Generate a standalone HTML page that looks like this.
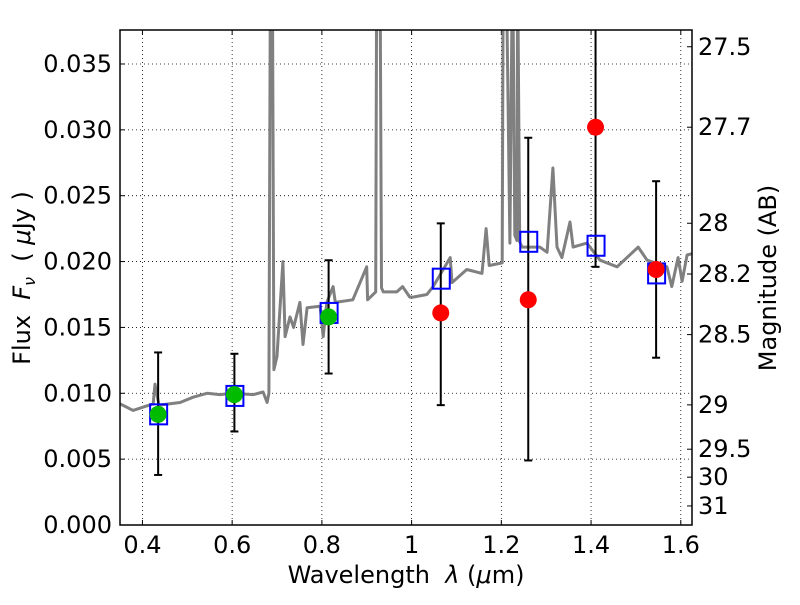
<!DOCTYPE html>
<html><head><meta charset="utf-8"><style>
body{margin:0;background:#fff}
svg text{font-family:"DejaVu Sans","Liberation Sans",sans-serif;fill:#000}
</style></head><body>
<svg id="c" width="800" height="600" xmlns="http://www.w3.org/2000/svg"></svg>
<script>
const xTicks=[0.4,0.6,0.8,1.0,1.2,1.4,1.6];
const xTickLabels=["0.4","0.6","0.8","1","1.2","1.4","1.6"];
const yTicks=[0,0.005,0.010,0.015,0.020,0.025,0.030,0.035];
const yTickLabels=["0.000","0.005","0.010","0.015","0.020","0.025","0.030","0.035"];
const magTicks=[27.5,27.7,28,28.2,28.5,29,29.5,30,31];
const magTickLabels=["27.5","27.7","28","28.2","28.5","29","29.5","30","31"];
const specWl=[0.35,0.379,0.424,0.428,0.437,0.484,0.513,0.544,0.573,0.60,0.647,0.669,0.678,0.682,0.685,0.690,0.693,0.700,0.713,0.718,0.729,0.737,0.751,0.758,0.767,0.796,0.803,0.811,0.825,0.83,0.869,0.90,0.902,0.92,0.922,0.925,0.93,0.933,0.937,0.967,0.98,0.996,1.003,1.034,1.048,1.086,1.09,1.123,1.157,1.166,1.173,1.202,1.204,1.206,1.212,1.219,1.224,1.226,1.23,1.235,1.236,1.237,1.241,1.246,1.286,1.302,1.315,1.324,1.335,1.353,1.36,1.391,1.42,1.458,1.505,1.525,1.569,1.58,1.594,1.603,1.614,1.625];
const specFlux=[0.0092,0.0087,0.0092,0.0107,0.0091,0.0093,0.0097,0.0100,0.0099,0.0100,0.0099,0.0101,0.0093,0.0100,0.040,0.040,0.0118,0.0128,0.0200,0.0143,0.0158,0.0150,0.0169,0.0137,0.0165,0.0166,0.0143,0.0169,0.0181,0.0169,0.0171,0.0196,0.0171,0.0177,0.040,0.040,0.040,0.0180,0.0177,0.0177,0.0181,0.0173,0.0173,0.0175,0.0181,0.0203,0.0184,0.0194,0.0191,0.0225,0.0197,0.0199,0.040,0.040,0.040,0.0214,0.040,0.040,0.0220,0.0216,0.040,0.040,0.0215,0.0211,0.0211,0.0207,0.0271,0.0211,0.0203,0.0230,0.0211,0.0214,0.0201,0.0196,0.0211,0.0201,0.0196,0.0181,0.0203,0.0185,0.0205,0.0206];
const obsWl=[0.435,0.605,0.815,1.065,1.26,1.41,1.545];
const obsFlux=[0.0084,0.0099,0.0158,0.0161,0.0171,0.0302,0.0194];
const obsLo=[0.0038,0.0071,0.0115,0.0091,0.0049,0.0196,0.0127];
const obsHi=[0.0131,0.0130,0.0201,0.0229,0.0294,0.0400,0.0261];
const obsColor=["green","green","green","red","red","red","red"];
const modelFlux=[0.0084,0.0098,0.0161,0.0187,0.0215,0.0212,0.0191];

const L=120,R=692,T=30,B=525,X0=0.35,X1=1.625,Y1=0.03758;
const FS=24;
const sx=v=>L+(v-X0)/(X1-X0)*(R-L);
const sy=v=>B-v/Y1*(B-T);
const svg=document.getElementById('c');
const NS='http://www.w3.org/2000/svg';
function mk(tag,attrs,parent){const e=document.createElementNS(NS,tag);for(const k in attrs)e.setAttribute(k,attrs[k]);(parent||svg).appendChild(e);return e;}
const defs=mk('defs',{});const cp=mk('clipPath',{id:'pc'},defs);mk('rect',{x:L,y:T,width:R-L,height:B-T},cp);
const grid=mk('g',{});


xTicks.forEach((v,i)=>{
 const x=sx(v);
 mk('line',{x1:x,x2:x,y1:T,y2:B,stroke:'#000','stroke-width':0.8,'stroke-dasharray':'1,3'},grid);
 mk('line',{x1:x,x2:x,y1:B,y2:B-5,stroke:'#000'},grid);
 mk('line',{x1:x,x2:x,y1:T,y2:T+5,stroke:'#000'},grid);
 const t=mk('text',{x:x,y:B+28,'font-size':FS,'text-anchor':'middle'});
 t.textContent=xTickLabels[i];
 
 
});
yTicks.forEach((v,i)=>{
 const y=sy(v);
 mk('line',{x1:L,x2:R,y1:y,y2:y,stroke:'#000','stroke-width':0.8,'stroke-dasharray':'1,3'},grid);
 mk('line',{x1:L,x2:L+5,y1:y,y2:y,stroke:'#000'},grid);
 const t=mk('text',{x:L-8,y:y+8,'font-size':FS,'text-anchor':'end'});
 t.textContent=yTickLabels[i];
 
 
});
magTicks.forEach((m,i)=>{
 const y=sy(Math.pow(10,(23.9-m)/2.5));
 mk('line',{x1:R,x2:R-5,y1:y,y2:y,stroke:'#000'},grid);
 const t=mk('text',{x:R+6,y:y+8,'font-size':FS,'text-anchor':'start'});
 t.textContent=magTickLabels[i];
 
 
});
const d=specWl.map((w,i)=>(i?'L':'M')+sx(w).toFixed(1)+','+sy(specFlux[i]).toFixed(1)).join('');
const sp=mk('path',{d:d,fill:'none',stroke:'#808080','stroke-width':3,'stroke-linejoin':'round','clip-path':'url(#pc)'});


obsWl.forEach((w,i)=>{
 const x=sx(w);
 const g=mk('g',{'clip-path':'url(#pc)'});
 
 
 mk('line',{x1:x,x2:x,y1:sy(obsLo[i]),y2:sy(obsHi[i]),stroke:'#000','stroke-width':2},g);
 mk('line',{x1:x-4,x2:x+4,y1:sy(obsLo[i]),y2:sy(obsLo[i]),stroke:'#000','stroke-width':2},g);
 mk('line',{x1:x-4,x2:x+4,y1:sy(obsHi[i]),y2:sy(obsHi[i]),stroke:'#000','stroke-width':2},g);
 const sq=mk('rect',{x:x-8,y:sy(modelFlux[i])-10,width:17,height:20,fill:'none',stroke:'#0000ff','stroke-width':2});
 
 
 const c=mk('circle',{cx:x,cy:sy(obsFlux[i]),r:8.5,fill:obsColor[i]==='green'?'#00bb00':'#ff0000'});
 
 
});
const fr=mk('rect',{x:L,y:T,width:R-L,height:B-T,fill:'none',stroke:'#000','stroke-width':1.5});


const xl=mk('text',{x:406,y:583,'font-size':FS,'text-anchor':'middle'});
xl.innerHTML='Wavelength  <tspan font-style="italic">λ</tspan> (<tspan font-style="italic">μ</tspan>m)';
xl.setAttribute('style','white-space:pre');


const yl=mk('text',{x:0,y:0,'font-size':FS,'text-anchor':'middle',transform:'translate(30,278) rotate(-90)',style:'white-space:pre'});
yl.innerHTML='Flux  <tspan font-style="italic">F</tspan><tspan font-style="italic" font-size="16" dy="5">ν</tspan><tspan dy="-5">  ( </tspan><tspan font-style="italic">μ</tspan>Jy )';


const rl=mk('text',{x:0,y:0,'font-size':FS,'text-anchor':'middle',transform:'translate(776,278) rotate(-90)'});
rl.textContent='Magnitude (AB)';


</script>
</body></html>
